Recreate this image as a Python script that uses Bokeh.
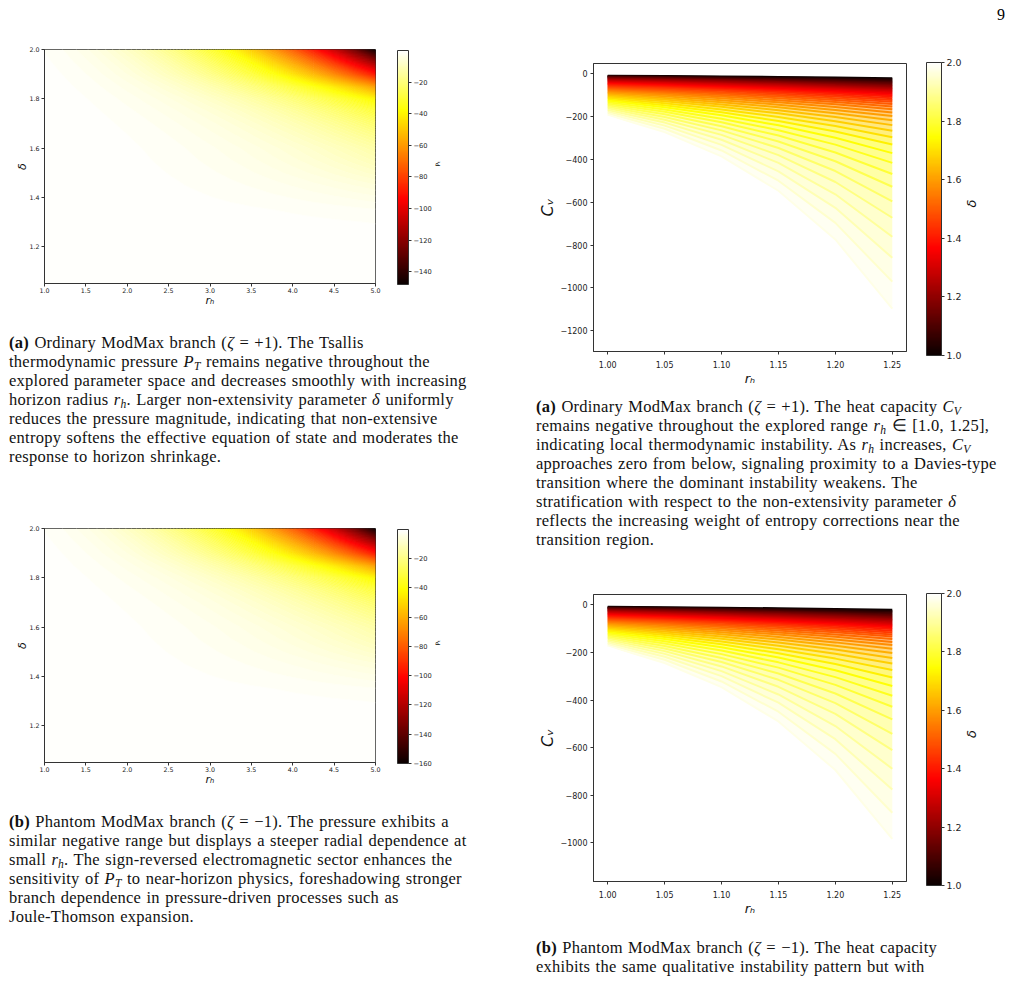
import numpy as np
from bokeh.plotting import figure
from bokeh.models import (LinearColorMapper, ColorBar, FixedTicker, Div, Spacer, LinearAxis,
                          CustomJSTickFormatter, Range1d, AllLabels)
from bokeh.layouts import row, column
from bokeh.embed import file_html
from bokeh.resources import INLINE

# ------------------------------------------------------------------ data
# Tsallis pressure P_T heat maps: grid of r_h (columns) x delta (rows)
rh_heat = [1.0, 1.25, 1.5, 1.75, 2.0, 2.25, 2.5, 2.75, 3.0, 3.25, 3.5, 3.75, 4.0, 4.25, 4.5, 4.75, 5.0]
delta_heat = [1.05, 1.10, 1.15, 1.20, 1.25, 1.30, 1.35, 1.40, 1.45, 1.50,
              1.55, 1.60, 1.65, 1.70, 1.75, 1.80, 1.85, 1.90, 1.95, 2.00]

PT_ordinary = [
    [-0.020, -0.026, -0.033, -0.040, -0.048, -0.055, -0.063, -0.071, -0.079, -0.088, -0.096, -0.105, -0.113, -0.122, -0.132, -0.141, -0.150],
    [-0.020, -0.028, -0.036, -0.045, -0.054, -0.064, -0.074, -0.085, -0.096, -0.108, -0.120, -0.133, -0.145, -0.159, -0.172, -0.186, -0.200],
    [-0.025, -0.035, -0.047, -0.059, -0.073, -0.087, -0.103, -0.119, -0.136, -0.154, -0.173, -0.192, -0.213, -0.233, -0.255, -0.277, -0.300],
    [-0.030, -0.043, -0.058, -0.074, -0.092, -0.111, -0.131, -0.153, -0.176, -0.200, -0.225, -0.252, -0.279, -0.308, -0.338, -0.368, -0.400],
    [-0.035, -0.052, -0.072, -0.094, -0.119, -0.147, -0.177, -0.209, -0.244, -0.281, -0.320, -0.361, -0.405, -0.450, -0.498, -0.548, -0.600],
    [-0.040, -0.062, -0.090, -0.122, -0.160, -0.203, -0.250, -0.303, -0.360, -0.423, -0.490, -0.563, -0.640, -0.722, -0.810, -0.902, -1.000],
    [-0.045, -0.075, -0.114, -0.162, -0.220, -0.289, -0.368, -0.457, -0.558, -0.671, -0.795, -0.931, -1.080, -1.240, -1.414, -1.600, -1.800],
    [-0.050, -0.090, -0.146, -0.219, -0.312, -0.425, -0.561, -0.722, -0.909, -1.122, -1.364, -1.637, -1.941, -2.278, -2.650, -3.055, -3.500],
    [-0.055, -0.104, -0.176, -0.273, -0.400, -0.560, -0.757, -0.994, -1.275, -1.604, -1.982, -2.415, -2.906, -3.455, -4.068, -4.748, -5.500],
    [-0.060, -0.118, -0.206, -0.329, -0.494, -0.706, -0.973, -1.300, -1.693, -2.159, -2.706, -3.338, -4.061, -4.881, -5.810, -6.846, -8.000],
    [-0.070, -0.140, -0.247, -0.400, -0.606, -0.874, -1.214, -1.633, -2.141, -2.748, -3.459, -4.289, -5.245, -6.332, -7.567, -8.953, -10.50],
    [-0.080, -0.162, -0.289, -0.470, -0.717, -1.041, -1.451, -1.962, -2.585, -3.330, -4.208, -5.236, -6.422, -7.777, -9.320, -11.06, -13.00],
    [-0.100, -0.204, -0.365, -0.596, -0.914, -1.330, -1.861, -2.524, -3.331, -4.301, -5.448, -6.791, -8.345, -10.12, -12.15, -14.44, -17.00],
    [-0.130, -0.265, -0.474, -0.774, -1.185, -1.725, -2.413, -3.271, -4.316, -5.572, -7.055, -8.792, -10.80, -13.10, -15.73, -18.68, -22.00],
    [-0.180, -0.364, -0.648, -1.054, -1.607, -2.331, -3.249, -4.392, -5.778, -7.443, -9.401, -11.69, -14.34, -17.36, -20.79, -24.66, -29.00],
    [-0.250, -0.505, -0.898, -1.460, -2.225, -3.225, -4.495, -6.073, -7.988, -10.29, -12.99, -16.15, -19.80, -23.96, -28.70, -34.03, -40.00],
    [-0.350, -0.714, -1.280, -2.093, -3.208, -4.676, -6.545, -8.880, -11.73, -15.14, -19.19, -23.93, -29.41, -35.69, -42.84, -50.93, -60.00],
    [-0.50, -1.03, -1.85, -3.04, -4.68, -6.85, -9.62, -13.08, -17.32, -22.43, -28.48, -35.59, -43.82, -53.25, -64.10, -76.25, -90.00],
    [-0.70, -1.42, -2.55, -4.16, -6.37, -9.27, -12.96, -17.57, -23.18, -29.92, -37.87, -47.19, -57.97, -70.28, -84.35, -100.2, -118.0],
    [-1.00, -2.00, -3.52, -5.68, -8.60, -12.41, -17.20, -23.13, -30.30, -38.85, -48.89, -60.60, -74.02, -89.33, -106.7, -126.2, -148.0],
]

PT_phantom = [
    [-0.022, -0.028, -0.036, -0.043, -0.052, -0.059, -0.068, -0.077, -0.085, -0.095, -0.104, -0.113, -0.122, -0.132, -0.143, -0.152, -0.162],
    [-0.022, -0.030, -0.039, -0.049, -0.058, -0.069, -0.080, -0.092, -0.104, -0.117, -0.130, -0.144, -0.157, -0.172, -0.186, -0.201, -0.216],
    [-0.027, -0.038, -0.051, -0.064, -0.079, -0.094, -0.111, -0.129, -0.147, -0.166, -0.187, -0.207, -0.230, -0.252, -0.275, -0.299, -0.324],
    [-0.032, -0.046, -0.063, -0.080, -0.099, -0.120, -0.141, -0.165, -0.190, -0.216, -0.243, -0.272, -0.301, -0.333, -0.365, -0.397, -0.432],
    [-0.038, -0.056, -0.078, -0.102, -0.129, -0.159, -0.191, -0.226, -0.264, -0.303, -0.346, -0.390, -0.437, -0.486, -0.538, -0.592, -0.648],
    [-0.043, -0.067, -0.097, -0.132, -0.173, -0.219, -0.270, -0.327, -0.389, -0.457, -0.529, -0.608, -0.691, -0.780, -0.875, -0.974, -1.080],
    [-0.049, -0.081, -0.123, -0.175, -0.238, -0.312, -0.397, -0.494, -0.603, -0.725, -0.859, -1.005, -1.166, -1.339, -1.527, -1.728, -1.944],
    [-0.054, -0.097, -0.158, -0.237, -0.337, -0.459, -0.606, -0.780, -0.982, -1.212, -1.473, -1.768, -2.096, -2.460, -2.862, -3.299, -3.780],
    [-0.059, -0.112, -0.190, -0.295, -0.432, -0.605, -0.818, -1.074, -1.377, -1.732, -2.141, -2.608, -3.138, -3.731, -4.393, -5.128, -5.940],
    [-0.065, -0.127, -0.222, -0.355, -0.534, -0.762, -1.051, -1.404, -1.828, -2.332, -2.922, -3.605, -4.386, -5.271, -6.275, -7.394, -8.640],
    [-0.076, -0.151, -0.267, -0.432, -0.654, -0.944, -1.311, -1.764, -2.312, -2.968, -3.736, -4.632, -5.665, -6.839, -8.172, -9.669, -11.34],
    [-0.086, -0.175, -0.312, -0.508, -0.774, -1.124, -1.567, -2.119, -2.792, -3.596, -4.545, -5.655, -6.936, -8.399, -10.07, -11.94, -14.04],
    [-0.108, -0.220, -0.394, -0.644, -0.987, -1.436, -2.010, -2.726, -3.597, -4.645, -5.884, -7.334, -9.013, -10.93, -13.12, -15.60, -18.36],
    [-0.140, -0.286, -0.512, -0.836, -1.280, -1.863, -2.606, -3.533, -4.661, -6.018, -7.619, -9.495, -11.66, -14.15, -16.99, -20.17, -23.76],
    [-0.194, -0.393, -0.700, -1.138, -1.736, -2.517, -3.509, -4.743, -6.240, -8.038, -10.15, -12.63, -15.49, -18.75, -22.45, -26.63, -31.32],
    [-0.270, -0.545, -0.970, -1.577, -2.403, -3.483, -4.855, -6.559, -8.627, -11.11, -14.03, -17.44, -21.38, -25.88, -31.00, -36.75, -43.20],
    [-0.378, -0.771, -1.382, -2.260, -3.465, -5.050, -7.069, -9.590, -12.67, -16.35, -20.73, -25.84, -31.76, -38.55, -46.27, -55.00, -64.80],
    [-0.54, -1.11, -2.00, -3.28, -5.05, -7.40, -10.39, -14.13, -18.71, -24.22, -30.76, -38.44, -47.33, -57.51, -69.23, -82.35, -97.20],
    [-0.76, -1.53, -2.75, -4.49, -6.88, -10.01, -14.00, -18.98, -25.03, -32.31, -40.90, -50.97, -62.61, -75.90, -91.10, -108.2, -127.4],
    [-1.08, -2.16, -3.80, -6.13, -9.29, -13.40, -18.58, -24.98, -32.72, -41.96, -52.80, -65.45, -79.94, -96.48, -115.2, -136.3, -160.0],
]

# Heat capacity C_V curves: one curve per delta, sampled at rh_cv
rh_cv = [1.00, 1.05, 1.10, 1.15, 1.20, 1.25]
delta_cv = [1.000, 1.025, 1.050, 1.075, 1.100, 1.125, 1.150, 1.175, 1.200, 1.225,
            1.250, 1.275, 1.300, 1.325, 1.350, 1.375, 1.400, 1.425, 1.450, 1.475,
            1.500, 1.525, 1.550, 1.575, 1.600, 1.625, 1.650, 1.675, 1.700, 1.725,
            1.750, 1.775, 1.800, 1.825, 1.850, 1.875, 1.900, 1.925, 1.950, 1.975, 2.000]

cv_ord_r100 = [-8.0, -9.3, -10.9, -12.6, -14.4, -16.5, -18.7, -21.1, -23.7, -26.4, -29.4, -32.5, -35.8, -39.3, -42.9, -46.7, -50.7, -54.9, -59.3, -63.8, -68.5, -73.4, -78.5, -83.7, -89.1, -94.7, -100.5, -106.5, -112.6, -118.9, -125.4, -132.0, -138.9, -145.9, -153.1, -160.5, -168.0, -175.8, -183.7, -191.7, -200.0]
cv_ord_r105 = [-9.6, -11.4, -13.3, -15.4, -17.7, -20.1, -22.8, -25.6, -28.5, -31.7, -35.0, -38.5, -42.1, -46.0, -50.0, -54.3, -58.7, -63.4, -68.4, -73.6, -79.0, -84.9, -91.0, -97.5, -104.4, -111.7, -119.5, -127.8, -136.5, -145.8, -155.7, -166.1, -177.0, -188.6, -200.9, -213.7, -227.2, -241.4, -256.2, -271.7, -287.9]
cv_ord_r110 = [-11.5, -13.9, -16.3, -18.9, -21.7, -24.6, -27.7, -31.0, -34.4, -37.9, -41.7, -45.6, -49.6, -53.9, -58.4, -63.1, -68.0, -73.3, -78.9, -84.9, -91.2, -98.1, -105.6, -113.6, -122.3, -131.8, -142.1, -153.3, -165.6, -178.8, -193.3, -208.8, -225.7, -243.9, -263.5, -284.6, -307.3, -331.5, -357.5, -385.1, -414.4]
cv_ord_r115 = [-13.9, -16.9, -20.0, -23.2, -26.6, -30.1, -33.7, -37.5, -41.4, -45.4, -49.6, -54.0, -58.5, -63.2, -68.1, -73.3, -78.8, -84.7, -91.0, -97.9, -105.3, -113.4, -122.4, -132.3, -143.3, -155.5, -169.0, -184.0, -200.8, -219.4, -239.9, -262.6, -287.7, -315.3, -345.7, -379.0, -415.7, -455.4, -498.7, -545.8, -596.5]
cv_ord_r120 = [-16.7, -20.5, -24.5, -28.5, -32.6, -36.8, -41.1, -45.4, -49.9, -54.4, -59.1, -63.9, -68.9, -74.1, -79.5, -85.2, -91.3, -97.9, -105.0, -112.9, -121.5, -131.1, -142.0, -154.2, -167.9, -183.4, -201.0, -220.9, -243.5, -269.0, -297.9, -330.2, -366.8, -407.7, -453.5, -504.7, -562.3, -625.5, -695.7, -773.5, -858.7]
cv_ord_r125 = [-20.0, -25.0, -30.0, -35.0, -40.0, -45.0, -50.0, -55.1, -60.1, -65.2, -70.4, -75.7, -81.1, -86.8, -92.7, -99.0, -105.7, -113.1, -121.2, -130.2, -140.2, -151.6, -164.7, -179.6, -196.7, -216.3, -239.0, -265.1, -295.3, -329.9, -369.8, -415.3, -467.5, -527.0, -595.0, -672.0, -760.5, -859.2, -970.6, -1096.1, -1236.0]

cv_ph_r100 = [-8.0, -9.3, -10.8, -12.5, -14.3, -16.3, -18.4, -20.7, -23.2, -25.8, -28.6, -31.5, -34.6, -37.9, -41.3, -44.9, -48.6, -52.4, -56.4, -60.6, -64.9, -69.3, -73.9, -78.6, -83.5, -88.4, -93.6, -98.8, -104.2, -109.8, -115.4, -121.2, -127.1, -133.1, -139.3, -145.6, -152.0, -158.5, -165.2, -171.9, -178.8]
cv_ph_r105 = [-9.6, -11.3, -13.2, -15.3, -17.5, -19.9, -22.4, -25.1, -27.9, -30.9, -34.1, -37.4, -40.8, -44.4, -48.2, -52.1, -56.3, -60.6, -65.1, -69.9, -74.9, -80.1, -85.7, -91.6, -97.8, -104.3, -111.3, -118.6, -126.4, -134.6, -143.3, -152.4, -162.0, -172.1, -182.8, -193.9, -205.6, -217.7, -230.4, -243.7, -257.4]
cv_ph_r110 = [-11.5, -13.8, -16.2, -18.8, -21.5, -24.3, -27.3, -30.4, -33.6, -37.0, -40.6, -44.2, -48.1, -52.1, -56.2, -60.6, -65.2, -70.0, -75.1, -80.6, -86.4, -92.7, -99.4, -106.7, -114.5, -123.1, -132.3, -142.4, -153.3, -165.1, -177.9, -191.7, -206.6, -222.6, -239.8, -258.2, -278.0, -299.0, -321.5, -345.3, -370.5]
cv_ph_r115 = [-13.9, -16.8, -19.9, -23.1, -26.3, -29.7, -33.2, -36.8, -40.5, -44.4, -48.3, -52.4, -56.6, -61.0, -65.6, -70.4, -75.5, -80.9, -86.7, -93.0, -99.7, -107.1, -115.3, -124.3, -134.2, -145.2, -157.4, -170.9, -185.9, -202.5, -220.9, -241.1, -263.3, -287.7, -314.5, -343.8, -376.0, -410.7, -448.5, -489.4, -533.3]
cv_ph_r120 = [-16.7, -20.5, -24.4, -28.3, -32.3, -36.3, -40.4, -44.6, -48.8, -53.1, -57.5, -62.1, -66.7, -71.5, -76.5, -81.8, -87.4, -93.5, -100.0, -107.2, -115.0, -123.9, -133.7, -144.8, -157.2, -171.2, -187.2, -205.1, -225.4, -248.4, -274.2, -303.1, -335.7, -372.0, -412.7, -457.9, -508.6, -564.1, -625.6, -693.5, -767.7]
cv_ph_r125 = [-20.0, -24.9, -29.8, -34.7, -39.6, -44.4, -49.2, -54.0, -58.8, -63.6, -68.5, -73.5, -78.5, -83.8, -89.3, -95.1, -101.2, -108.0, -115.4, -123.6, -132.8, -143.2, -155.1, -168.7, -184.2, -202.0, -222.5, -246.1, -273.4, -304.6, -340.4, -381.2, -427.9, -481.0, -541.4, -609.7, -687.9, -774.9, -872.9, -982.8, -1105.0]

heat_x_ticks = [1.0, 1.5, 2.0, 2.5, 3.0, 3.5, 4.0, 4.5, 5.0]
heat_y_ticks = [1.2, 1.4, 1.6, 1.8, 2.0]
cb_ticks_ord = [-20, -40, -60, -80, -100, -120, -140]
cb_ticks_ph = [-20, -40, -60, -80, -100, -120, -140, -160]
cv_x_ticks = [1.00, 1.05, 1.10, 1.15, 1.20, 1.25]
cv_y_ticks_ord = [0, -200, -400, -600, -800, -1000, -1200]
cv_y_ticks_ph = [0, -200, -400, -600, -800, -1000]
delta_cb_ticks = [1.0, 1.2, 1.4, 1.6, 1.8, 2.0]

# ------------------------------------------------------------------ style helpers
def hot_hex(t):
    t = min(1.0, max(0.0, t))
    r = min(1.0, 0.0416 + t * (1 - 0.0416) / 0.365079)
    g = min(1.0, max(0.0, (t - 0.365079) / (0.746032 - 0.365079)))
    b = min(1.0, max(0.0, (t - 0.746032) / (1 - 0.746032)))
    return "#%02x%02x%02x" % (round(r * 255), round(g * 255), round(b * 255))

HOT = [hot_hex(i / 255) for i in range(256)]
FONT = "DejaVu Sans"
MINUS0 = "return (tick < 0 ? '\\u2212' : '') + Math.abs(tick).toFixed(0);"


def style_axes(p, tick_px, label_px):
    for ax in (p.xaxis[0], p.yaxis[0]):
        ax.major_label_text_font = FONT
        ax.major_label_text_font_size = f"{tick_px}px"
        ax.major_label_text_color = "#222222"
        ax.axis_label_text_font = FONT
        ax.axis_label_text_font_style = "italic"
        ax.axis_label_text_font_size = f"{label_px}px"
        ax.axis_label_text_color = "#111111"
        ax.major_tick_in = 0
        ax.major_tick_out = 3
        ax.minor_tick_line_color = None
        ax.axis_line_color = "#333333"
        ax.major_tick_line_color = "#333333"
    p.xgrid.visible = False
    p.ygrid.visible = False
    p.outline_line_color = "#333333"
    p.outline_line_alpha = 1.0


def side_label(text, size, standoff, italic):
    ax = LinearAxis(axis_label=text, ticker=FixedTicker(ticks=[]),
                    axis_line_color=None, major_tick_line_color=None,
                    minor_tick_line_color=None, major_label_text_font_size="0px",
                    axis_label_text_font=FONT, axis_label_text_font_size=size,
                    axis_label_text_font_style="italic" if italic else "normal",
                    axis_label_text_color="#111111", axis_label_standoff=standoff)
    try:
        ax.axis_label_orientation = float(np.pi / 2)
    except Exception:
        pass
    return ax


def heat_figure(grid, mb_left, mb_right, cb_ticks):
    vals = np.array(grid, dtype=float)
    vmin, vmax = float(vals.min()), float(vals.max())
    mapper = LinearColorMapper(palette=HOT, low=vmin, high=vmax)
    p = figure(width=460, height=273, x_range=Range1d(1.0, 5.0), y_range=Range1d(1.05, 2.0),
               output_backend="svg", toolbar_location=None,
               min_border_left=mb_left, min_border_right=mb_right,
               min_border_top=9, min_border_bottom=30, margin=0)
    nlev = 160
    levels = list(np.linspace(vmin - 0.005, vmax + 0.005, nlev + 1))
    fills = [hot_hex(((levels[k] + levels[k + 1]) / 2 - vmin) / (vmax - vmin)) for k in range(nlev)]
    lines = [hot_hex((lv - vmin) / (vmax - vmin)) for lv in levels]
    p.contour(x=np.array(rh_heat), y=np.array(delta_heat), z=vals, levels=levels,
              fill_color=fills, line_color=lines, line_width=0.8)
    style_axes(p, 6.3, 11)
    p.xaxis.major_label_standoff = 1
    p.xaxis.axis_label_standoff = -2
    p.yaxis.major_label_standoff = 2
    p.yaxis.axis_label_standoff = -3
    p.xaxis.axis_label = "rₕ"
    p.yaxis.axis_label = "δ"
    p.xaxis.ticker = FixedTicker(ticks=heat_x_ticks)
    p.yaxis.ticker = FixedTicker(ticks=heat_y_ticks)
    p.xaxis.formatter = CustomJSTickFormatter(code="return tick.toFixed(1);")
    p.yaxis.formatter = CustomJSTickFormatter(code="return tick.toFixed(1);")
    cb = ColorBar(color_mapper=mapper, width=11, height=234, padding=0, margin=0,
                  location=(22, -1),
                  ticker=FixedTicker(ticks=cb_ticks),
                  formatter=CustomJSTickFormatter(code=MINUS0),
                  major_label_policy=AllLabels(),
                  major_label_text_font=FONT, major_label_text_font_size="6.7px",
                  major_label_text_color="#222222",
                  major_tick_in=0, major_tick_out=3, major_tick_line_color="#333333",
                  minor_tick_line_color=None, label_standoff=2,
                  bar_line_color="#333333", border_line_color=None,
                  background_fill_color=None)
    p.add_layout(cb, "right")
    p.add_layout(side_label("Pₜ", "6px", 3, False), "right")
    return p


def cv_figure(cols, y_lo, y_hi, y_ticks, frame_h):
    mapper = LinearColorMapper(palette=HOT, low=1.0, high=2.0)
    p = figure(width=487, height=10 + frame_h + 32, x_range=Range1d(0.9875, 1.2625),
               y_range=Range1d(y_lo, y_hi), output_backend="svg", toolbar_location=None,
               min_border_left=73, min_border_right=101, min_border_top=10,
               min_border_bottom=32, margin=0)
    ys = [[c[i] for c in cols] for i in range(len(delta_cv))]
    colors = [hot_hex((d - 1.0) / 1.0) for d in delta_cv]
    for i in range(len(delta_cv) - 1):
        p.varea(x=rh_cv, y1=ys[i], y2=ys[i + 1], fill_color=colors[i + 1], fill_alpha=0.5)
    p.multi_line(xs=[list(rh_cv) for _ in delta_cv], ys=ys, line_color=colors, line_width=2.0)
    style_axes(p, 8, 13)
    p.yaxis.axis_label_text_font_size = "16px"
    p.xaxis.major_label_standoff = 6
    p.xaxis.axis_label_standoff = 0
    p.yaxis.major_label_standoff = 3
    p.yaxis.axis_label_standoff = 0
    p.xaxis.axis_label = "rₕ"
    p.yaxis.axis_label = "Cᵥ"
    p.xaxis.ticker = FixedTicker(ticks=cv_x_ticks)
    p.yaxis.ticker = FixedTicker(ticks=y_ticks)
    p.xaxis.formatter = CustomJSTickFormatter(code="return tick.toFixed(2);")
    p.yaxis.formatter = CustomJSTickFormatter(code=MINUS0)
    cb = ColorBar(color_mapper=mapper, width=15, height=frame_h, padding=0, margin=0,
                  location=(20, -4),
                  ticker=FixedTicker(ticks=delta_cb_ticks),
                  formatter=CustomJSTickFormatter(code="return tick.toFixed(1);"),
                  major_label_policy=AllLabels(),
                  major_label_text_font=FONT, major_label_text_font_size="9.4px",
                  major_label_text_color="#222222",
                  major_tick_in=0, major_tick_out=3, major_tick_line_color="#333333",
                  minor_tick_line_color=None, label_standoff=2,
                  bar_line_color="#333333", border_line_color=None,
                  background_fill_color=None)
    p.add_layout(cb, "right")
    p.add_layout(side_label("δ", "13px", 7, True), "right")
    return p


def caption(html, w, h, pad_top, pad_left):
    inner = (f"<div style=\"font-family:'Liberation Serif',serif;font-size:16.5px;"
             f"letter-spacing:0.25px;word-spacing:1px;"
             f"line-height:19px;color:#111;white-space:nowrap;padding-top:{pad_top}px;"
             f"padding-left:{pad_left}px;\">{html}</div>")
    return Div(text=inner, width=w, height=h, margin=0)


SUB = "<sub style=\"font-size:70%;line-height:0;vertical-align:-0.25em\">{}</sub>"
rh = "<i>r</i>" + SUB.format("<i>h</i>")
PT = "<i>P</i>" + SUB.format("<i>T</i>")
CV = "<i>C</i>" + SUB.format("<i>V</i>")

capA1_html = ("<b>(a)</b> Ordinary ModMax branch (<i>ζ</i> = +1). The Tsallis<br>"
              f"thermodynamic pressure {PT} remains negative throughout the<br>"
              "explored parameter space and decreases smoothly with increasing<br>"
              f"horizon radius {rh}. Larger non-extensivity parameter <i>δ</i> uniformly<br>"
              "reduces the pressure magnitude, indicating that non-extensive<br>"
              "entropy softens the effective equation of state and moderates the<br>"
              "response to horizon shrinkage.")
capB1_html = ("<b>(b)</b> Phantom ModMax branch (<i>ζ</i> = −1). The pressure exhibits a<br>"
              "similar negative range but displays a steeper radial dependence at<br>"
              f"small {rh}. The sign-reversed electromagnetic sector enhances the<br>"
              f"sensitivity of {PT} to near-horizon physics, foreshadowing stronger<br>"
              "branch dependence in pressure-driven processes such as<br>"
              "Joule-Thomson expansion.")
capA2_html = (f"<b>(a)</b> Ordinary ModMax branch (<i>ζ</i> = +1). The heat capacity {CV}<br>"
              f"remains negative throughout the explored range {rh} ∈ [1.0, 1.25],<br>"
              f"indicating local thermodynamic instability. As {rh} increases, {CV}<br>"
              "approaches zero from below, signaling proximity to a Davies-type<br>"
              "transition where the dominant instability weakens. The<br>"
              "stratification with respect to the non-extensivity parameter <i>δ</i><br>"
              "reflects the increasing weight of entropy corrections near the<br>"
              "transition region.")
capB2_html = ("<b>(b)</b> Phantom ModMax branch (<i>ζ</i> = −1). The heat capacity<br>"
              "exhibits the same qualitative instability pattern but with")

# ------------------------------------------------------------------ build
figA1 = heat_figure(PT_ordinary, 36, 91, cb_ticks_ord)
figB1 = heat_figure(PT_phantom, 34, 93, cb_ticks_ph)

cols_ord = [cv_ord_r100, cv_ord_r105, cv_ord_r110, cv_ord_r115, cv_ord_r120, cv_ord_r125]
cols_ph = [cv_ph_r100, cv_ph_r105, cv_ph_r110, cv_ph_r115, cv_ph_r120, cv_ph_r125]
figA2 = cv_figure(cols_ord, -1297, 49, cv_y_ticks_ord, 293)
figB2 = cv_figure(cols_ph, -1162, 44, cv_y_ticks_ph, 292)

page_num = Div(text="<div style=\"font-family:'Liberation Serif',serif;font-size:16px;"
                    "line-height:16px;width:485px;text-align:right;margin-top:-4px;\">9</div>",
               width=487, height=45, margin=0)

left = column(Spacer(width=512, height=32, margin=0), figA1,
              caption(capA1_html, 512, 206, 20, 1), figB1,
              caption(capB1_html, 512, 181, 20, 1), spacing=0, margin=0)
right = column(page_num, figA2, caption(capA2_html, 487, 196, 9, 16), figB2,
               caption(capB2_html, 487, 55, 20, 16), spacing=0, margin=0)
root = row(left, right, spacing=0, margin=(8, 0, 0, 8))

open("out.html", "w").write(file_html(root, INLINE, title="ModMax Tsallis thermodynamics"))
